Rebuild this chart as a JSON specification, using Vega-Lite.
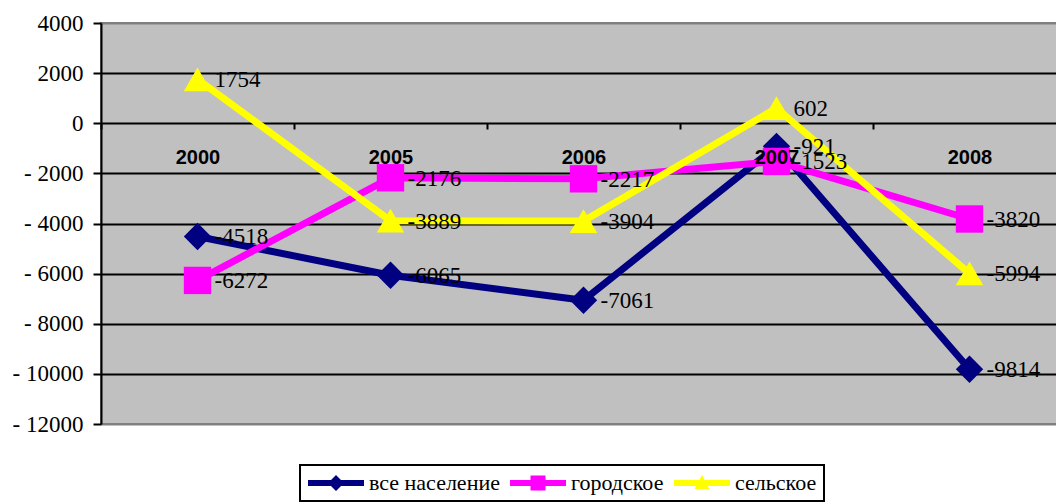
{
  "$schema": "https://vega.github.io/schema/vega-lite/v6.json",
  "width": 965,
  "height": 401,
  "autosize": {"type": "none"},
  "padding": {"left": 101, "top": 23, "right": 0, "bottom": 78},
  "background": "white",
  "config": {
    "view": {"fill": "#C0C0C0", "stroke": "#808080", "strokeWidth": 2},
    "font": "Liberation Serif, Times New Roman, serif",
    "axisY": {"labelFont": "Liberation Serif, Times New Roman, serif", "labelFontSize": 23, "labelFontWeight": "normal"},
    "legend": {"labelFont": "Liberation Serif, Times New Roman, serif"}
  },
  "data": {
    "values": [
      {"year": "2000", "series": "все население", "value": -4518},
      {"year": "2005", "series": "все население", "value": -6065},
      {"year": "2006", "series": "все население", "value": -7061},
      {"year": "2007", "series": "все население", "value": -921},
      {"year": "2008", "series": "все население", "value": -9814},
      {"year": "2000", "series": "городское", "value": -6272},
      {"year": "2005", "series": "городское", "value": -2176},
      {"year": "2006", "series": "городское", "value": -2217},
      {"year": "2007", "series": "городское", "value": -1523},
      {"year": "2008", "series": "городское", "value": -3820},
      {"year": "2000", "series": "сельское", "value": 1754},
      {"year": "2005", "series": "сельское", "value": -3889},
      {"year": "2006", "series": "сельское", "value": -3904},
      {"year": "2007", "series": "сельское", "value": 602},
      {"year": "2008", "series": "сельское", "value": -5994}
    ]
  },
  "encoding": {
    "x": {
      "field": "year",
      "type": "nominal",
      "scale": {"type": "band", "paddingInner": 0, "paddingOuter": 0},
      "axis": {
        "title": null,
        "orient": "bottom",
        "offset": -301,
        "domain": false,
        "labelAngle": 0,
        "labelFont": "Liberation Sans",
        "labelFontWeight": "bold",
        "labelFontSize": 20,
        "labelColor": "black",
        "labelPadding": 18,
        "tickBand": "extent",
        "tickColor": "black",
        "tickWidth": 2,
        "tickSize": 6,
        "zindex": 1
      }
    },
    "y": {
      "field": "value",
      "type": "quantitative",
      "scale": {"domain": [-12000, 4000], "nice": false, "zero": false},
      "axis": {
        "title": null,
        "values": [-12000, -10000, -8000, -6000, -4000, -2000, 0, 2000, 4000],
        "labelExpr": "datum.value < 0 ? '- ' + format(-datum.value, 'd') : format(datum.value, 'd')",
        "labelFont": "Liberation Serif, Times New Roman, serif",
        "labelFontSize": 23,
        "labelColor": "black",
        "labelPadding": 10,
        "domainColor": "black",
        "domainWidth": 2,
        "tickColor": "black",
        "tickWidth": 2,
        "tickSize": 8,
        "grid": true,
        "gridColor": {"condition": {"test": "datum.value == 4000 || datum.value == -12000", "value": "#808080"}, "value": "black"},
        "gridWidth": 2,
        "gridOpacity": 1
      }
    }
  },
  "layer": [
    {
      "mark": {"type": "line", "strokeWidth": 7},
      "encoding": {
        "color": {
          "field": "series",
          "type": "nominal",
          "scale": {"domain": ["все население", "городское", "сельское"], "range": ["#000080", "#FF00FF", "#FFFF00"]},
          "legend": {
            "title": null,
            "orient": "none",
            "legendX": 199,
            "legendY": 442,
            "direction": "horizontal",
            "strokeColor": "black",
            "padding": 7,
            "labelFont": "Liberation Serif, Times New Roman, serif",
            "labelFontSize": 22,
            "labelColor": "black",
            "labelLimit": 300,
            "symbolSize": 400,
            "symbolOffset": 18,
            "labelOffset": 22,
            "columnPadding": 9,
            "symbolStrokeWidth": 0,
            "symbolOpacity": 1,
            "encode": {
              "legend": {"update": {"strokeWidth": {"value": 2}}},
              "symbols": {
                "update": {
                  "shape": {"signal": "datum.value === 'все население' ? 'M-2.8,-0.3L-0.5,-0.3L0,-0.8L0.5,-0.3L2.8,-0.3L2.8,0.3L0.5,0.3L0,0.8L-0.5,0.3L-2.8,0.3Z' : datum.value === 'городское' ? 'M-2.8,-0.3L-0.75,-0.3L-0.75,-0.75L0.75,-0.75L0.75,-0.3L2.8,-0.3L2.8,0.3L0.75,0.3L0.75,0.75L-0.75,0.75L-0.75,0.3L-2.8,0.3Z' : 'M-2.8,-0.3L-0.27,-0.3L0,-0.8L0.27,-0.3L2.8,-0.3L2.8,0.3L0.59,0.3L0.75,0.6L-0.75,0.6L-0.59,0.3L-2.8,0.3Z'"},
                  "fill": {"signal": "datum.value === 'все население' ? '#000080' : datum.value === 'городское' ? '#FF00FF' : '#FFFF00'"},
                  "fillOpacity": {"value": 1},
                  "strokeWidth": {"value": 0}
                }
              }
            }
          }
        }
      }
    },
    {
      "transform": [{"filter": "datum.series === 'все население'"}],
      "mark": {"type": "point", "shape": "diamond", "filled": true, "size": 750, "opacity": 1, "color": "#000080"}
    },
    {
      "transform": [{"filter": "datum.series === 'городское'"}],
      "mark": {"type": "point", "shape": "square", "filled": true, "size": 750, "opacity": 1, "color": "#FF00FF"}
    },
    {
      "transform": [{"filter": "datum.series === 'сельское'"}],
      "mark": {"type": "point", "shape": "triangle-up", "filled": true, "size": 750, "opacity": 1, "color": "#FFFF00"}
    },
    {
      "mark": {"type": "text", "align": "left", "baseline": "middle", "dx": 17, "dy": 1, "font": "Liberation Serif, Times New Roman, serif", "fontSize": 23, "color": "black"},
      "encoding": {
        "text": {"field": "value", "type": "nominal"}
      }
    }
  ]
}
